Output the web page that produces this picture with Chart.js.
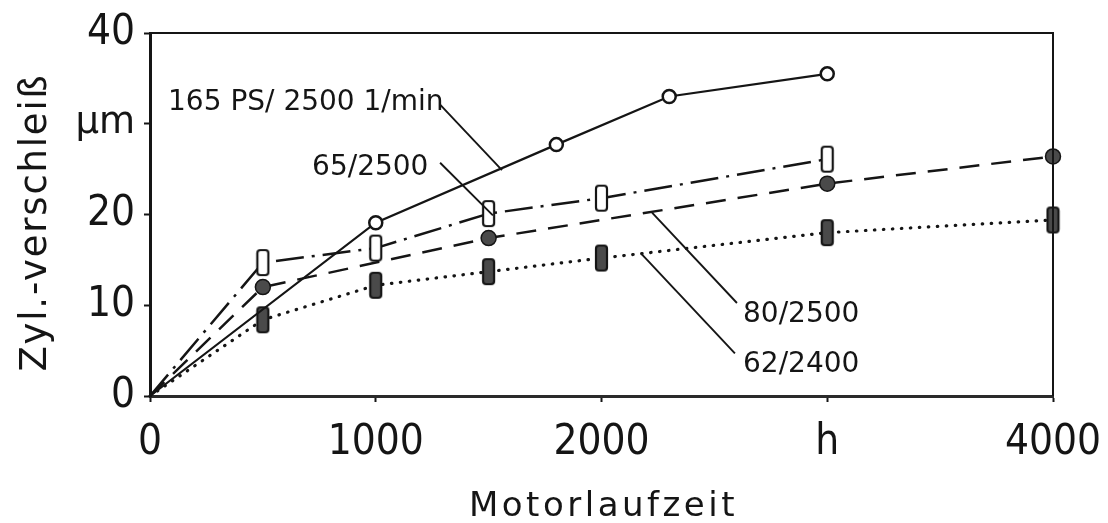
<!DOCTYPE html>
<html lang="de">
<head>
<meta charset="utf-8">
<title>Zylinderverschleiß über Motorlaufzeit</title>
<script src="https://cdn.jsdelivr.net/npm/chart.js@4.4.1/dist/chart.umd.min.js"></script>
<style>
  html, body { margin: 0; padding: 0; background: #fff; }
  #wrap { width: 1108px; height: 523px; }
</style>
</head>
<body>
<div id="wrap"><canvas id="chart" width="1108" height="523"></canvas></div>
<script>
// Motorlaufzeit (h) und Zylinderverschleiß (µm) je Betriebspunkt
var hours165 = [0, 1000, 1800, 2300, 3000];
var wear165 = [0, 19.1, 27.7, 33.0, 35.5];

var hours65 = [0, 500, 1000, 1500, 2000, 3000];
var wear65 = [0, 14.7, 16.3, 20.1, 21.8, 26.1];

var hours80 = [0, 500, 1500, 3000, 4000];
var wear80 = [0, 12.0, 17.4, 23.4, 26.4];

var hours62 = [0, 500, 1000, 1500, 2000, 3000, 4000];
var wear62 = [0, 8.4, 12.2, 13.7, 15.2, 18.0, 19.4];

// Achsbeschriftung
var xTicks = [0, 1000, 2000, 3000, 4000];
var xTickText = ['0', '1000', '2000', 'h', '4000'];
var yTicks = [0, 10, 20, 30, 40];
var yTickText = ['0', '10', '20', 'µm', '40'];

var seriesNames = ['165 PS/ 2500 1/min', '65/2500', '80/2500', '62/2400'];

var INK = '#151515';
var TICK_FONT = '"DejaVu Sans Condensed", "Liberation Sans Narrow", "DejaVu Sans", sans-serif';
var TEXT_FONT = '"DejaVu Sans", sans-serif';

function toPoints(xs, ys) {
    return xs.map(function (x, i) {
        return { x: x, y: ys[i] };
    });
}

// Upright bar marker, open or filled.
function makeBar(fill) {
    var c = document.createElement('canvas');
    c.width = 15;
    c.height = 29;
    var g = c.getContext('2d');
    g.beginPath();
    g.roundRect(2, 2, 11, 25, 3);
    g.fillStyle = fill;
    g.fill();
    g.lineWidth = 2.2;
    g.strokeStyle = INK;
    g.stroke();
    return c;
}

// No marker on the common origin.
function hideOrigin(r) {
    return function (ctx) {
        return ctx.dataIndex === 0 ? 0 : r;
    };
}

// Callouts: text anchored at left/baseline, leader drawn from -> to (data units).
var notes = [
    { text: seriesNames[0], at: [80, 31.5], size: 28, from: [1285, 32.1], to: [1559, 24.9] },
    { text: seriesNames[1], at: [718, 24.4], size: 28, from: [1285, 25.7], to: [1519, 19.9] },
    { text: seriesNames[2], at: [2627, 8.15], size: 28, from: [2600, 10.25], to: [2224, 20.2] },
    { text: seriesNames[3], at: [2627, 2.6], size: 28, from: [2591, 4.7], to: [2179, 15.6] }
];

var framePlugin = {
    id: 'frame',
    afterDatasetsDraw: function (chart) {
        var ctx = chart.ctx;
        var xs = chart.scales.x;
        var ys = chart.scales.y;
        ctx.save();
        ctx.fillStyle = INK;
        ctx.strokeStyle = INK;
        ctx.lineWidth = 1.9;
        ctx.textAlign = 'left';
        ctx.textBaseline = 'alphabetic';
        notes.forEach(function (n) {
            ctx.beginPath();
            ctx.moveTo(xs.getPixelForValue(n.from[0]), ys.getPixelForValue(n.from[1]));
            ctx.lineTo(xs.getPixelForValue(n.to[0]), ys.getPixelForValue(n.to[1]));
            ctx.stroke();
            ctx.font = n.size + 'px ' + TEXT_FONT;
            ctx.fillText(n.text, xs.getPixelForValue(n.at[0]), ys.getPixelForValue(n.at[1]));
        });
        ctx.restore();
    },
    afterDraw: function (chart) {
        var ctx = chart.ctx;
        var a = chart.chartArea;
        ctx.save();
        // top and right edge of the frame
        ctx.strokeStyle = INK;
        ctx.lineWidth = 2;
        ctx.beginPath();
        ctx.moveTo(a.left, a.top);
        ctx.lineTo(a.right, a.top);
        ctx.lineTo(a.right, a.bottom);
        ctx.stroke();

        // axis titles, spaced out like the stencil lettering
        ctx.fillStyle = INK;
        ctx.textAlign = 'center';
        ctx.font = '34px ' + TEXT_FONT;
        ctx.letterSpacing = '3.5px';
        ctx.textBaseline = 'alphabetic';
        ctx.fillText('Motorlaufzeit', (a.left + a.right) / 2 + 2, a.bottom + 120);

        ctx.font = '37px ' + TEXT_FONT;
        ctx.letterSpacing = '1.8px';
        ctx.translate(a.left - 104, (a.top + a.bottom) / 2 + 8);
        ctx.rotate(-Math.PI / 2);
        ctx.textBaseline = 'alphabetic';
        ctx.fillText('Zyl.-verschleiß', 0, 0);
        ctx.restore();
    }
};

var chart = new Chart(document.getElementById('chart'), {
    type: 'line',
    data: {
        datasets: [
            {
                label: seriesNames[0],
                data: toPoints(hours165, wear165),
                borderColor: INK,
                borderWidth: 2.2,
                pointStyle: 'circle',
                pointRadius: hideOrigin(6.5),
                pointBorderWidth: 2.5,
                pointBackgroundColor: '#fff',
                pointBorderColor: INK
            },
            {
                label: seriesNames[1],
                data: toPoints(hours65, wear65),
                borderColor: INK,
                borderWidth: 2.5,
                borderDash: [28, 8, 3, 8],
                pointStyle: makeBar('#fff'),
                pointRadius: hideOrigin(6)
            },
            {
                label: seriesNames[2],
                data: toPoints(hours80, wear80),
                borderColor: INK,
                borderWidth: 2.5,
                borderDash: [20, 12],
                pointStyle: 'circle',
                pointRadius: hideOrigin(7.5),
                pointBorderWidth: 1.5,
                pointBackgroundColor: '#4a4a4a',
                pointBorderColor: INK
            },
            {
                label: seriesNames[3],
                data: toPoints(hours62, wear62),
                borderColor: INK,
                borderWidth: 3.2,
                borderDash: [0.5, 8.5],
                borderCapStyle: 'round',
                pointStyle: makeBar('#4a4a4a'),
                pointRadius: hideOrigin(6)
            }
        ]
    },
    options: {
        responsive: false,
        animation: false,
        clip: false,
        layout: { padding: { top: 33, right: 55, left: 0, bottom: 0 } },
        elements: { line: { tension: 0, fill: false } },
        plugins: {
            legend: { display: false },
            tooltip: { enabled: false }
        },
        scales: {
            x: {
                type: 'linear',
                min: 0,
                max: 4000,
                afterFit: function (s) {
                    s.height = 127;
                    // the "4000" label may hang past the frame
                    s.paddingLeft = 0;
                    s.paddingRight = 0;
                },
                afterBuildTicks: function (s) {
                    s.ticks = xTicks.map(function (v) { return { value: v }; });
                },
                ticks: {
                    color: INK,
                    padding: 16,
                    maxRotation: 0,
                    font: { family: TICK_FONT, size: 42 },
                    callback: function (v) {
                        return xTickText[xTicks.indexOf(v)];
                    }
                },
                grid: {
                    drawOnChartArea: false,
                    drawTicks: true,
                    tickLength: 6,
                    tickWidth: 2,
                    tickColor: INK
                },
                border: { color: '#2a2a2a', width: 3 }
            },
            y: {
                type: 'linear',
                min: 0,
                max: 40,
                afterFit: function (s) {
                    s.width = 150;
                    s.paddingTop = 0;
                    s.paddingBottom = 0;
                },
                afterBuildTicks: function (s) {
                    s.ticks = yTicks.map(function (v) { return { value: v }; });
                },
                ticks: {
                    color: INK,
                    padding: 9,
                    font: function (c) {
                        var unit = c.tick && c.tick.value === 30;
                        return unit ? { family: TEXT_FONT, size: 37 } : { family: TICK_FONT, size: 42 };
                    },
                    callback: function (v) {
                        return yTickText[yTicks.indexOf(v)];
                    }
                },
                grid: {
                    drawOnChartArea: false,
                    drawTicks: true,
                    tickLength: 6,
                    tickWidth: 2,
                    tickColor: INK
                },
                border: { color: INK, width: 3 }
            }
        }
    },
    plugins: [framePlugin]
});
</script>
</body>
</html>
